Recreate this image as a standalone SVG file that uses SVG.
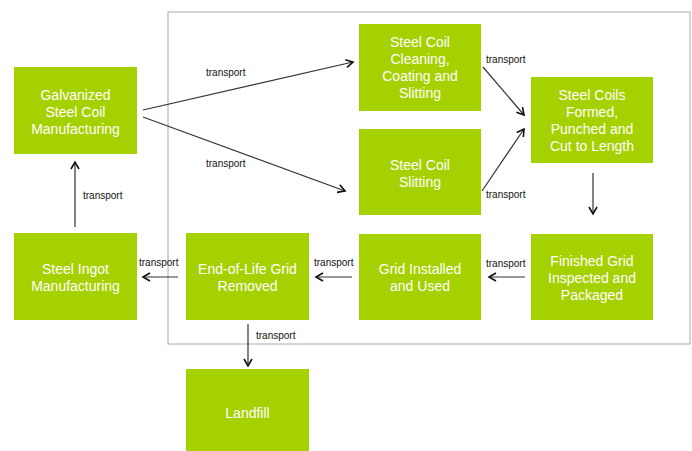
<svg xmlns="http://www.w3.org/2000/svg" width="692" height="451" viewBox="0 0 692 451">
<style>
.box{fill:#a6d101;}
.t{font-family:"Liberation Sans",Arial,sans-serif;font-size:14px;fill:#ffffff;text-anchor:middle;}
.lbl{font-family:"Liberation Sans",Arial,sans-serif;font-size:10px;fill:#111111;}
.c{stroke:#333333;stroke-width:1.2;fill:none;marker-end:url(#ah);}
</style>
<defs>
<marker id="ah" markerWidth="10" markerHeight="10" refX="8" refY="5" orient="auto" markerUnits="userSpaceOnUse">
<path d="M1,1 L8,5 L1,9" fill="none" stroke="#111111" stroke-width="1.6"/>
</marker>
</defs>
<rect width="692" height="451" fill="#ffffff"/>
<rect id="frame" x="168" y="12" width="522" height="332" fill="none" stroke="#aaaaaa" stroke-width="1"/>
<g id="connectors">
<line class="c" x1="143" y1="110" x2="353" y2="62"/>
<line class="c" x1="143" y1="117" x2="345" y2="191"/>
<line class="c" x1="483" y1="67" x2="524" y2="115"/>
<line class="c" x1="482" y1="191" x2="524" y2="129"/>
<line class="c" x1="593" y1="173" x2="593" y2="214"/>
<line class="c" x1="525" y1="277" x2="489" y2="277"/>
<line class="c" x1="352" y1="277" x2="316" y2="277"/>
<line class="c" x1="178" y1="277" x2="143" y2="277"/>
<line class="c" x1="248" y1="324" x2="248" y2="366"/>
<line class="c" x1="75" y1="227" x2="75" y2="162"/>
<text class="lbl" x="206" y="76">transport</text>
<text class="lbl" x="206" y="167">transport</text>
<text class="lbl" x="486" y="63">transport</text>
<text class="lbl" x="486" y="198">transport</text>
<text class="lbl" x="486" y="267">transport</text>
<text class="lbl" x="314" y="266">transport</text>
<text class="lbl" x="139" y="266">transport</text>
<text class="lbl" x="256" y="339">transport</text>
<text class="lbl" x="83" y="199">transport</text>
</g>
<g id="galvanized">
<rect class="box" x="14" y="67" width="123" height="87"/>
<text class="t" x="75.5" y="100">Galvanized</text>
<text class="t" x="75.5" y="117">Steel Coil</text>
<text class="t" x="75.5" y="134">Manufacturing</text>
</g>
<g id="ingot">
<rect class="box" x="14" y="233" width="123" height="87"/>
<text class="t" x="75.5" y="274">Steel Ingot</text>
<text class="t" x="75.5" y="291">Manufacturing</text>
</g>
<g id="cleaning">
<rect class="box" x="359" y="24" width="122" height="87"/>
<text class="t" x="420" y="47">Steel Coil</text>
<text class="t" x="420" y="64">Cleaning,</text>
<text class="t" x="420" y="81">Coating and</text>
<text class="t" x="420" y="98">Slitting</text>
</g>
<g id="slitting">
<rect class="box" x="359" y="129" width="122" height="86"/>
<text class="t" x="420" y="170">Steel Coil</text>
<text class="t" x="420" y="187">Slitting</text>
</g>
<g id="formed">
<rect class="box" x="531" y="77" width="122" height="86"/>
<text class="t" x="592" y="100">Steel Coils</text>
<text class="t" x="592" y="117">Formed,</text>
<text class="t" x="592" y="134">Punched and</text>
<text class="t" x="592" y="151">Cut to Length</text>
</g>
<g id="finished">
<rect class="box" x="531" y="234" width="122" height="86"/>
<text class="t" x="592" y="266">Finished Grid</text>
<text class="t" x="592" y="283">Inspected and</text>
<text class="t" x="592" y="300">Packaged</text>
</g>
<g id="installed">
<rect class="box" x="359" y="234" width="122" height="86"/>
<text class="t" x="420" y="274">Grid Installed</text>
<text class="t" x="420" y="291">and Used</text>
</g>
<g id="endoflife">
<rect class="box" x="186" y="233" width="123" height="87"/>
<text class="t" x="247.5" y="274">End-of-Life Grid</text>
<text class="t" x="247.5" y="291">Removed</text>
</g>
<g id="landfill">
<rect class="box" x="186" y="369" width="123" height="87"/>
<text class="t" x="247.5" y="418">Landfill</text>
</g>
</svg>
